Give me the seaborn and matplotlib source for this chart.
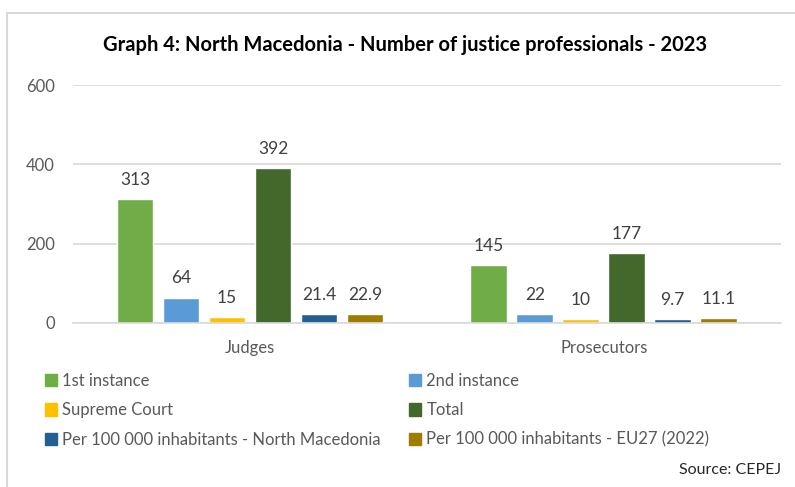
import numpy as np
import matplotlib.pyplot as plt
import seaborn as sns
import pandas as pd
from matplotlib.patches import Rectangle, Patch

categories = ["Judges", "Prosecutors"]
series = ["1st instance", "2nd instance", "Supreme Court", "Total",
          "Per 100 000 inhabitants - North Macedonia",
          "Per 100 000 inhabitants - EU27 (2022)"]
judges = [313, 64, 15, 392, 21.4, 22.9]
prosecutors = [145, 22, 10, 177, 9.7, 11.1]
colors = ["#70AD47", "#5B9BD5", "#FFC000", "#43682B", "#255E91", "#9E7C00"]
yticks = [0, 200, 400, 600]

rows = []
for s, j, p in zip(series, judges, prosecutors):
    rows.append({"cat": "Judges", "series": s, "value": j})
    rows.append({"cat": "Prosecutors", "series": s, "value": p})
df = pd.DataFrame(rows)

sns.set_style("white")
plt.rcParams['font.family'] = ['Lato', 'DejaVu Sans']

fig = plt.figure(figsize=(7.95, 4.87), dpi=100)
ax = fig.add_axes([0.092, 0.337, 0.89, 0.488])

sns.barplot(data=df, x="cat", y="value", hue="series", order=categories,
            hue_order=series, palette=colors, width=0.78, gap=0.2,
            saturation=1, ax=ax, legend=False)

for cont in ax.containers:
    ax.bar_label(cont, labels=[f"{v:g}" for v in cont.datavalues],
                 padding=8, fontsize=12.5, color="#404040")

ax.set_ylim(0, 600)
ax.set_xlim(-0.5, 1.5)
ax.set_yticks(yticks)
ax.grid(axis="y", color="#D9D9D9", linewidth=1.2)
ax.set_axisbelow(True)
for side in ["top", "right", "left"]:
    ax.spines[side].set_visible(False)
ax.spines["bottom"].set_color("#D9D9D9")
ax.spines["bottom"].set_linewidth(1.2)
ax.tick_params(axis="both", length=0, labelsize=12, colors="#595959", pad=13)
ax.tick_params(axis="x", pad=12)
ax.set_xlabel("")
ax.set_ylabel("")

fig.text(0.51, 0.907, "Graph 4: North Macedonia - Number of justice professionals - 2023",
         ha="center", va="center", fontsize=14.5, fontweight="bold", color="black")

handles = [Patch(color=c) for c in colors]
order = [0, 2, 4, 1, 3, 5]
fig.legend([handles[i] for i in order], [series[i] for i in order],
           ncol=2, loc="upper left", bbox_to_anchor=(0.056, 0.234),
           bbox_transform=fig.transFigure, frameon=False, fontsize=12,
           labelcolor="#595959", handlelength=0.75, handleheight=0.75,
           handletextpad=0.3, columnspacing=1.7, labelspacing=0.8,
           borderaxespad=0, borderpad=0)

fig.text(0.982, 0.035, "Source: CEPEJ", ha="right", va="center", fontsize=11.5)

fig.patches.append(Rectangle((0.009, -0.1), 1.2, 1.073, transform=fig.transFigure,
                             fill=False, edgecolor="#D9D9D9", linewidth=1.5))

fig.savefig("out.png", dpi=100)
